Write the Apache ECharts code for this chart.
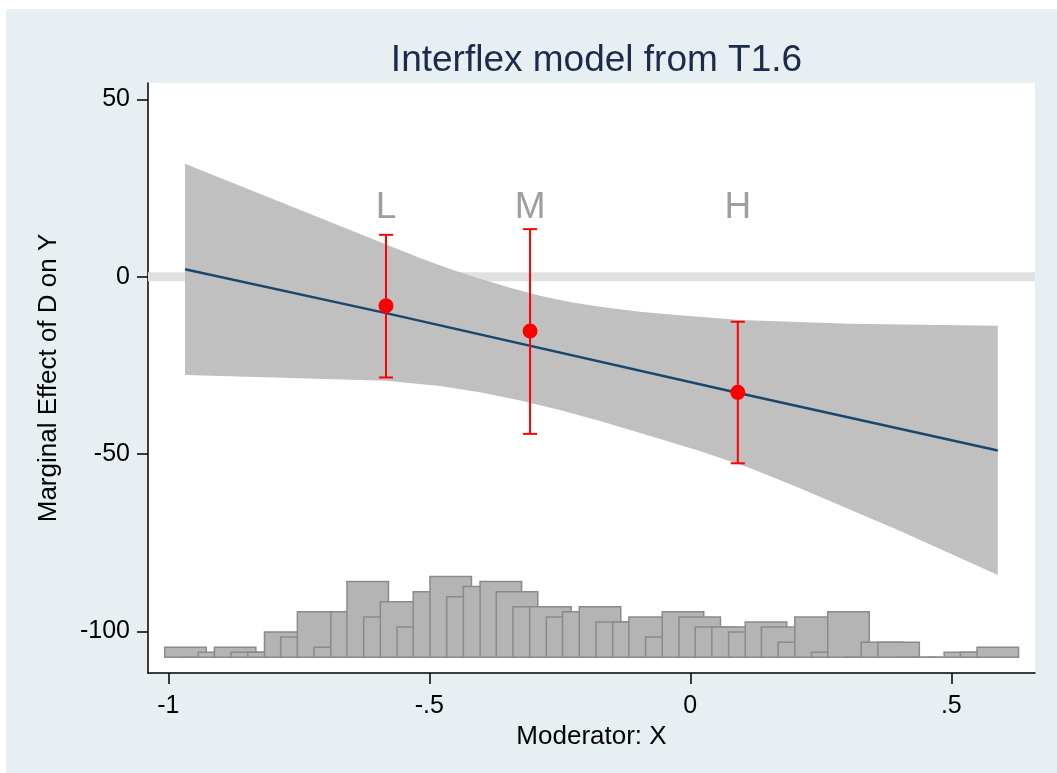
<!DOCTYPE html>
<html>
<head>
<meta charset="utf-8">
<script src="https://cdn.jsdelivr.net/npm/echarts@6/dist/echarts.min.js"></script>
<style>
html,body{margin:0;padding:0;background:#e8eff2;overflow:hidden;}
#chart{position:absolute;left:0;top:0;width:1057px;height:773px;}
</style>
</head>
<body>
<div id="chart"></div>
<script>
// ---------- data ----------
const titleText = 'Interflex model from T1.6';
const xAxisName = 'Moderator: X';
const yAxisName = 'Marginal Effect of D on Y';

const xTicks = [-1, -0.5, 0, 0.5];
const xTickLabels = ['-1', '-.5', '0', '.5'];
const yTicks = [-100, -50, 0, 50];

// linear marginal-effect estimate
const lineX = [-0.968, -0.585, 0.090, 0.589];
const lineY = [2.1, -10.2, -32.7, -49.0];

// confidence band
const bandUpperX = [-0.968, -0.518, -0.460, -0.403, -0.345, -0.288, -0.231, -0.173, -0.097, -0.020, 0.095, 0.306, 0.589];
const bandUpperY = [31.8, 5.3, 2.2, -0.6, -3.1, -5.4, -7.1, -8.5, -9.9, -10.9, -12.2, -13.3, -13.8];
const bandLowerX = [-0.968, -0.748, -0.583, -0.480, -0.403, -0.326, -0.250, -0.173, -0.077, 0.018, 0.114, 0.210, 0.402, 0.589];
const bandLowerY = [-27.7, -28.6, -29.3, -30.8, -32.6, -34.9, -37.6, -40.7, -44.9, -49.1, -53.9, -59.6, -71.7, -84.1];

// binned estimates (L, M, H)
const binNames = ['L', 'M', 'H'];
const binX = [-0.583, -0.307, 0.091];
const binEst = [-8.2, -15.3, -32.6];
const binLow = [-28.4, -44.3, -52.6];
const binHigh = [11.8, 13.4, -12.7];

// histogram of the moderator (bar centres and counts)
const histX = [-0.967, -0.935, -0.903, -0.872, -0.840, -0.808, -0.776, -0.745, -0.713, -0.681,
               -0.649, -0.618, -0.586, -0.554, -0.522, -0.491, -0.459, -0.427, -0.395, -0.363,
               -0.332, -0.300, -0.268, -0.236, -0.205, -0.173, -0.141, -0.109, -0.078, -0.046,
               -0.014, 0.018, 0.049, 0.081, 0.113, 0.145, 0.176, 0.208, 0.240, 0.272,
               0.303, 0.335, 0.367, 0.399, 0.430, 0.462, 0.494, 0.526, 0.557, 0.589];
const histCount = [2, 0, 1, 2, 1, 1, 5, 4, 9, 2,
                   9, 15, 8, 11, 6, 13, 16, 12, 14, 15,
                   13, 10, 10, 8, 9, 10, 7, 7, 8, 4,
                   9, 8, 6, 6, 5, 7, 6, 3, 8, 1,
                   9, 0, 3, 3, 0, 0, 0, 1, 1, 2];

const refLineY = 0;

// ---------- presentation constants ----------
const FONT = 'Liberation Sans, Arial, sans-serif';
const HIST_BAR_W = 0.0795;     // bar width in x units
const LABEL_Y = 19.5;          // y level of L/M/H letters
const CAP_HALF = 7;            // error-bar cap half width (px)

const chart = echarts.init(document.getElementById('chart'), null, {renderer: 'canvas', width: 1057, height: 773});

const option = {
  animation: false,
  backgroundColor: '#e8eff2',
  textStyle: {fontFamily: FONT},
  title: {
    text: titleText,
    left: 591.5,
    top: 37,
    textAlign: 'center',
    textStyle: {fontSize: 37, fontWeight: 'normal', color: '#1c2a4b', fontFamily: FONT}
  },
  graphic: [
    {type: 'rect', left: 0, top: 0, shape: {width: 1057, height: 9}, style: {fill: '#ffffff'}, silent: true},
    {type: 'rect', left: 0, top: 0, shape: {width: 6, height: 773}, style: {fill: '#ffffff'}, silent: true}
  ],
  grid: {
    left: 148, right: 22, top: 83, bottom: 100,
    show: true, backgroundColor: '#ffffff', borderWidth: 0
  },
  xAxis: {
    type: 'value',
    min: -1.0389, max: 0.6603,
    name: xAxisName,
    nameLocation: 'middle',
    nameGap: 47,
    nameTextStyle: {fontSize: 26, color: '#000', fontFamily: FONT},
    axisLine: {show: true, onZero: false, lineStyle: {color: '#000', width: 1.5}},
    axisTick: {show: true, length: 11, customValues: xTicks, lineStyle: {color: '#000', width: 1.5}},
    axisLabel: {
      customValues: xTicks, margin: 21, fontSize: 25, color: '#000', fontFamily: FONT,
      formatter: v => { const i = xTicks.findIndex(t => Math.abs(t - v) < 1e-9); return i >= 0 ? xTickLabels[i] : ''; }
    },
    splitLine: {show: false}
  },
  yAxis: [
    {
      type: 'value',
      min: -111.70, max: 54.59,
      name: yAxisName,
      nameLocation: 'middle',
      nameGap: 86,
      nameTextStyle: {fontSize: 26, color: '#000', fontFamily: FONT},
      axisLine: {show: true, onZero: false, lineStyle: {color: '#000', width: 1.5}},
      axisTick: {show: true, length: 11, customValues: yTicks, lineStyle: {color: '#000', width: 1.5}},
      axisLabel: {customValues: yTicks, margin: 18, fontSize: 25, color: '#000', fontFamily: FONT},
      splitLine: {show: false}
    },
    {
      type: 'value',
      min: -3.109, max: 113.72,
      show: false,
      splitLine: {show: false}
    }
  ],
  series: [
    { // zero reference line
      type: 'custom', z: 1, silent: true,
      data: [[0, refLineY]],
      renderItem: (params, api) => {
        const cs = params.coordSys;
        const y = api.coord([0, api.value(1)])[1];
        return {type: 'line', shape: {x1: cs.x, y1: y, x2: cs.x + cs.width, y2: y},
                style: {stroke: '#e0e0e0', lineWidth: 9}};
      }
    },
    { // confidence band
      type: 'custom', z: 2, silent: true,
      data: [[0, 0]],
      renderItem: (params, api) => {
        const pts = [];
        for (let i = 0; i < bandUpperX.length; i++) pts.push(api.coord([bandUpperX[i], bandUpperY[i]]));
        for (let i = bandLowerX.length - 1; i >= 0; i--) pts.push(api.coord([bandLowerX[i], bandLowerY[i]]));
        return {type: 'polygon', shape: {points: pts}, style: {fill: '#c0c0c0'}};
      }
    },
    { // estimate line
      type: 'line', z: 3, silent: true,
      data: lineX.map((x, i) => [x, lineY[i]]),
      showSymbol: false, symbol: 'none',
      lineStyle: {color: '#1a476f', width: 2.5}
    },
    { // histogram
      type: 'custom', z: 3, silent: true,
      yAxisIndex: 1,
      data: histX.map((x, i) => [x, histCount[i]]),
      renderItem: (params, api) => {
        const x = api.value(0), c = api.value(1);
        const p0 = api.coord([x - HIST_BAR_W / 2, 0]);
        const p1 = api.coord([x + HIST_BAR_W / 2, c]);
        return {type: 'rect',
                shape: {x: p0[0], y: p1[1], width: p1[0] - p0[0], height: p0[1] - p1[1]},
                style: {fill: '#b4b4b4', stroke: '#8a8a8a', lineWidth: 1.5}};
      }
    },
    { // error bars
      type: 'custom', z: 4, silent: true,
      data: binX.map((x, i) => [x, binLow[i], binHigh[i]]),
      renderItem: (params, api) => {
        const x = api.value(0);
        const a = api.coord([x, api.value(2)]);
        const b = api.coord([x, api.value(1)]);
        const st = {stroke: '#ff0000', lineWidth: 2};
        return {type: 'group', children: [
          {type: 'line', shape: {x1: a[0], y1: a[1], x2: b[0], y2: b[1]}, style: st},
          {type: 'line', shape: {x1: a[0] - CAP_HALF, y1: a[1], x2: a[0] + CAP_HALF, y2: a[1]}, style: st},
          {type: 'line', shape: {x1: b[0] - CAP_HALF, y1: b[1], x2: b[0] + CAP_HALF, y2: b[1]}, style: st}
        ]};
      }
    },
    { // binned point estimates
      type: 'scatter', z: 5, silent: true,
      data: binX.map((x, i) => [x, binEst[i]]),
      symbol: 'circle', symbolSize: 15,
      itemStyle: {color: '#ff0000', opacity: 1}
    },
    { // L / M / H letters
      type: 'custom', z: 5, silent: true,
      data: binX.map((x, i) => [x, LABEL_Y, i]),
      renderItem: (params, api) => {
        const p = api.coord([api.value(0), api.value(1)]);
        return {type: 'text', x: p[0], y: p[1],
                style: {text: binNames[params.dataIndex], fill: '#9e9e9e', fontSize: 37,
                        fontFamily: FONT, align: 'center', verticalAlign: 'middle'}};
      }
    }
  ]
};

chart.setOption(option);
</script>
</body>
</html>
